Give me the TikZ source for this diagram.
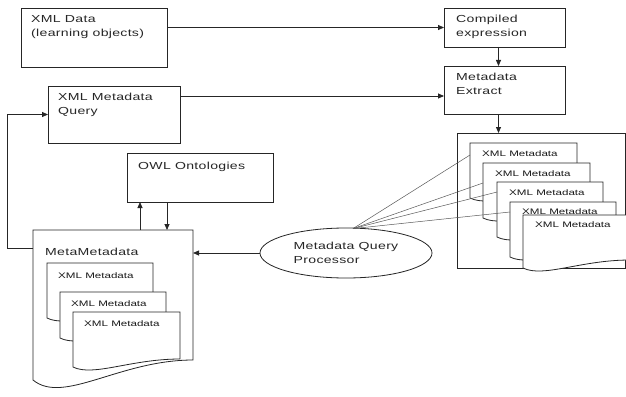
\documentclass[tikz,border=0pt]{standalone}
\usepackage{fontspec}
\usetikzlibrary{arrows.meta,calc,shapes.geometric}
\newfontfamily\lf[FakeStretch=1.38,LetterSpace=3]{Liberation Sans}
\newfontfamily\smallfnt[FakeStretch=1.45]{Liberation Sans}
\newcommand\docpath[3]{%
  \filldraw[docline] (#1.south west) -- (#1.north west) -- (#1.north east)
   -- ($(#1.south east)+(0,-#3)$)
   .. controls ($(#1.south west)+(0.54*#2,-#3)$) and ($(#1.south west)+(0.19*#2,1.25*#3)$) .. (#1.south west) -- cycle;}
\begin{document}
\begin{tikzpicture}[x=1pt,y=-1pt,
  box/.style={draw=black!85, line width=0.8pt, fill=white, inner sep=0pt, outer sep=0pt, anchor=north west},
  docn/.style={inner sep=0pt, outer sep=0pt, anchor=north west},
  docline/.style={draw=black!85, line width=0.8pt, fill=white},
  lab/.style={font=\lf\fontsize{10.2}{14}\selectfont, align=left, inner sep=0pt, anchor=north west, text=black!85},
  slab/.style={font=\smallfnt\fontsize{8}{10}\selectfont, inner sep=0pt, anchor=north west, text=black!90},
  arr/.style={draw=black!85, line width=0.8pt, -{Triangle[length=6pt,width=5pt]}},
  thin/.style={draw=black!65, line width=0.5pt}]
\useasboundingbox (0,0) rectangle (626,396);
\clip (0,0) rectangle (626,396);
\fill[white] (0,0) rectangle (626,396);

% top boxes
\node[box, minimum width=146pt, minimum height=59pt] (xd) at (21,8) {};
\node[lab] (xdt) at (31,15) {XML Data\\(learning objects)};
\node[box, minimum width=121pt, minimum height=39pt] (comp) at (444,8) {};
\node[lab] (compt) at (456,15) {Compiled\\expression};
\node[box, minimum width=121pt, minimum height=48pt] (ex) at (444,66) {};
\node[lab] (ext) at (456,73) {Metadata\\Extract};
\node[box, minimum width=132pt, minimum height=57pt] (qy) at (48,86) {};
\node[lab] (qyt) at (58,93) {XML Metadata\\Query};
\node[box, minimum width=146pt, minimum height=49pt] (owl) at (127,153) {};
\node[lab] (owlt) at (138,162) {OWL Ontologies};

% right container
\node[box, minimum width=168.5pt, minimum height=135pt] (outer) at (457,133) {};
\node[docn, minimum width=107pt, minimum height=55pt] (r1) at (470,143) {};
\docpath{r1}{107}{8}
\node[slab] (r1t) at (482,151) {XML Metadata};
\node[docn, minimum width=107pt, minimum height=55pt] (r2) at (483,163) {};
\docpath{r2}{107}{8}
\node[slab] (r2t) at (495,171) {XML Metadata};
\node[docn, minimum width=106pt, minimum height=55pt] (r3) at (497,182) {};
\docpath{r3}{106}{8}
\node[slab] (r3t) at (509,190) {XML Metadata};
\node[docn, minimum width=106pt, minimum height=55pt] (r4) at (510,202) {};
\docpath{r4}{106}{8}
\node[slab] (r4t) at (522,209) {XML Metadata};
\node[docn, minimum width=107pt, minimum height=53pt] (r5) at (523,215) {};
\docpath{r5}{107}{8}
\node[slab] (r5t) at (535,222) {XML Metadata};

% MetaMetadata document
\node[docn, minimum width=160pt, minimum height=150pt] (mm) at (33,230) {};
\docpath{mm}{160}{20}
\node[lab] (mmt) at (45,248) {MetaMetadata};
\node[docn, minimum width=106pt, minimum height=55pt] (d1) at (47,263) {};
\docpath{d1}{106}{8}
\node[slab] (d1t) at (58,272) {XML Metadata};
\node[docn, minimum width=106pt, minimum height=46pt] (d2) at (60,292) {};
\docpath{d2}{106}{8}
\node[slab] (d2t) at (71,300) {XML Metadata};
\node[docn, minimum width=107pt, minimum height=55pt] (d3) at (73,312) {};
\docpath{d3}{107}{8}
\node[slab] (d3t) at (84,320) {XML Metadata};

% query processor
\node[ellipse, draw=black!85, line width=0.8pt, fill=white, minimum width=172pt, minimum height=50pt, inner sep=0pt] (q) at (346,253) {};
\node[lab, anchor=center] (qt) at (q.center) {Metadata Query\\Processor};

% connectors
\draw[arr] (xd.east |- comp.west) -- (comp.west);
\draw[arr] ([yshift=-10pt]qy.north east) coordinate (a1) -- (a1 -| ex.west);
\draw[arr] ([xshift=-6pt]comp.south) coordinate (a2) -- (a2 |- ex.north);
\draw[arr] ([xshift=-6pt]ex.south) coordinate (a3) -- (a3 |- outer.north);
\draw[arr] ([xshift=13pt]owl.south west |- mm.north) coordinate (a4) -- (a4 |- owl.south);
\draw[arr] ([xshift=40pt]owl.south west) coordinate (a5) -- (a5 |- mm.north);
\draw[arr] (q.west) -- (q.west -| mm.east);
\draw[arr] ([yshift=-18pt]mm.north west) coordinate (f0) -- ++(-26,0) |- (qy.west);

\coordinate (qp) at ($(q.north)+(7,1)$);
\draw[thin] (qp) -- ([yshift=-12pt]r1.north west);
\draw[thin] (qp) -- ([yshift=-20pt]r2.north west);
\draw[thin] (qp) -- ([yshift=-10pt]r3.north west);
\draw[thin] (qp) -- ([yshift=-10pt]r4.north west);
\end{tikzpicture}
\end{document}
